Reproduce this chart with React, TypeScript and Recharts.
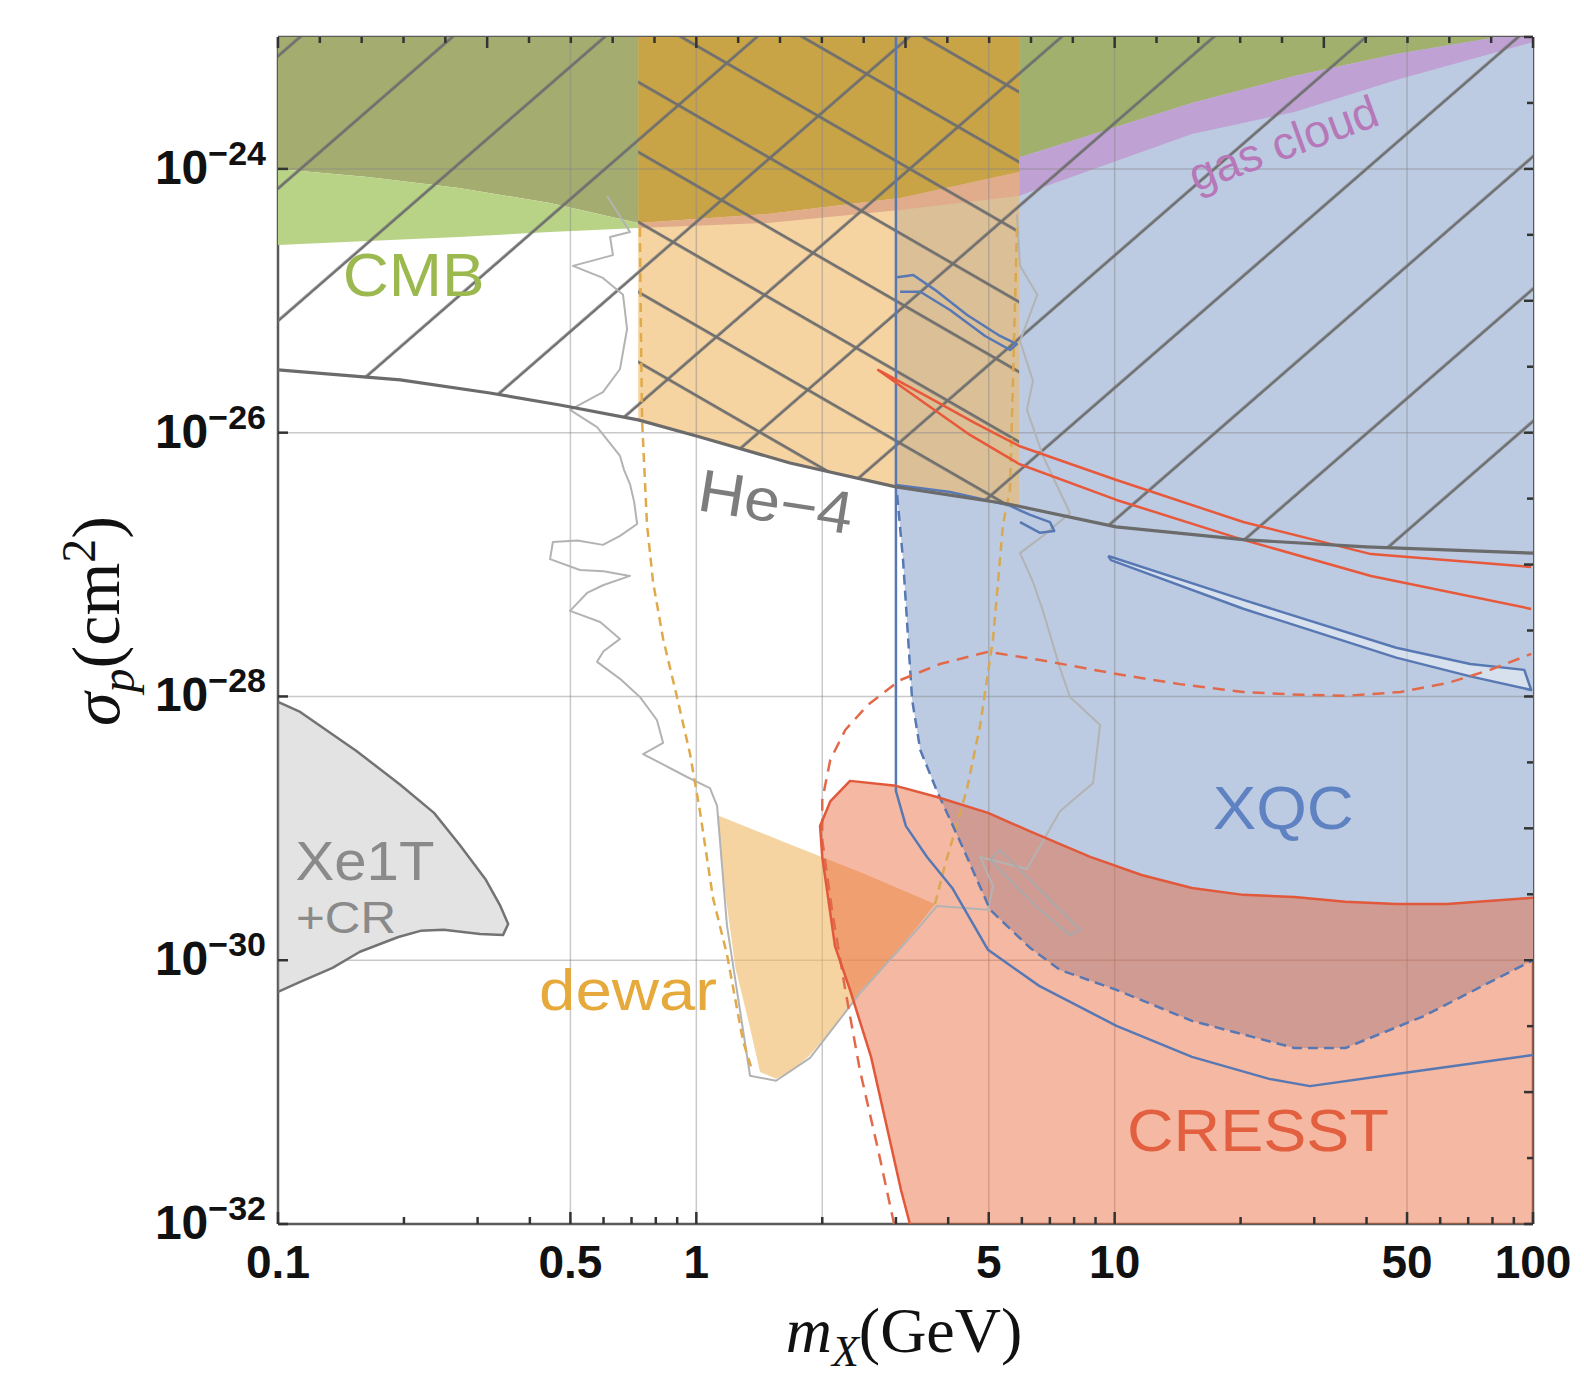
import { ComposedChart, Scatter, XAxis, YAxis } from "recharts";

// every point is [dark matter mass m_X in GeV, cross-section sigma_p in cm^2]
type Pt = [number, number];

const W = 1568;
const H = 1360;

const X_TICKS = [0.1, 0.2, 0.3, 0.4, 0.5, 0.6, 0.7, 0.8, 0.9, 1, 2, 3, 4, 5, 6, 7, 8, 9, 10, 20, 30, 40, 50, 60, 70, 80, 90, 100];
const X_LABELS = [0.1, 0.5, 1, 5, 10, 50, 100];
const Y_LABELS = [1e-32, 1e-30, 1e-28, 1e-26, 1e-24];
const TOP_TICKS = Array.from({ length: 31 }, (_, i) => 0.1 * Math.pow(10, i / 10));
const RIGHT_TICKS = Array.from({ length: 19 }, (_, i) => Math.pow(10, -32 + i / 2));
const GRID_X = [0.5, 1, 2, 5, 10, 50];
const GRID_Y = [1e-24, 1e-26, 1e-28, 1e-30];

const HE4_LINE: Pt[] = [
  [0.1, 2.99e-26], [0.196, 2.51e-26], [0.321, 2.0e-26], [0.472, 1.62e-26], [0.726, 1.25e-26],
  [1.02, 9.27e-27], [1.675, 5.89e-27], [3.0, 3.88e-27], [5.56, 2.88e-27], [10.08, 1.93e-27],
  [20.6, 1.54e-27], [39.9, 1.36e-27], [100, 1.22e-27],
];

const CMB_DARK: Pt[] = [
  [0.1, 1e-23], [0.726, 1e-23], [0.726, 3.89e-25], [0.447, 5.51e-25], [0.271, 7.17e-25], [0.164, 8.68e-25], [0.1, 1.0e-24],
];
const CMB_LIGHT: Pt[] = [
  [0.1, 1e-24], [0.164, 8.68e-25], [0.271, 7.17e-25], [0.447, 5.51e-25], [0.726, 3.89e-25],
  [0.726, 3.56e-25], [0.447, 3.32e-25], [0.271, 3.05e-25], [0.164, 2.84e-25], [0.1, 2.65e-25],
];
const CMB_RIGHT: Pt[] = [
  [5.91, 1e-23], [82.5, 1e-23], [47.1, 7.43e-24], [26.9, 5.06e-24], [15.3, 3.16e-24], [6.07, 1.25e-24], [5.91, 1.23e-24],
];
const GAS_CLOUD: Pt[] = [
  [5.91, 1.23e-24], [6.07, 1.25e-24], [15.3, 3.16e-24], [26.9, 5.06e-24], [47.1, 7.43e-24], [82.5, 1e-23],
  [100, 1e-23], [100, 9.17e-24], [47.1, 4.72e-24], [26.9, 2.7e-24], [15.3, 1.84e-24], [6.07, 6.45e-25], [5.91, 6.23e-25],
];

const DEWAR_BAND: Pt[] = [
  [0.726, 1e-23], [5.91, 1e-23], [5.91, 2.78e-27], [5.56, 2.88e-27], [3.0, 3.88e-27],
  [1.675, 5.89e-27], [1.02, 9.27e-27], [0.726, 1.25e-26],
];
const DEWAR_TOP: Pt[] = [
  [0.726, 1e-23], [5.91, 1e-23], [5.91, 9.47e-25], [3.07, 6.02e-25], [1.48, 4.55e-25], [0.726, 3.89e-25],
];
const DEWAR_GAS: Pt[] = [
  [0.726, 3.89e-25], [1.48, 4.55e-25], [3.07, 6.02e-25], [5.91, 9.47e-25],
  [5.91, 6.23e-25], [3.07, 4.88e-25], [1.48, 3.89e-25], [0.726, 3.56e-25],
];
const DEWAR_BLOB: Pt[] = [
  [1.12, 1.26e-29], [1.62, 7.89e-30], [2.46, 4.67e-30], [3.72, 2.67e-30], [3.33, 1.7e-30], [2.9, 1.01e-30],
  [2.48, 5.96e-31], [2.15, 3.23e-31], [1.87, 1.91e-31], [1.68, 1.42e-31], [1.55, 1.26e-31], [1.42, 1.42e-31],
  [1.33, 3.53e-31], [1.24, 8.74e-31], [1.17, 3.41e-30], [1.12, 1.26e-29],
];
const DEWAR_LEFT: Pt[] = [
  [0.733, 3.56e-25], [0.737, 6.01e-26], [0.742, 1.23e-26], [0.762, 2.03e-27], [0.788, 7.38e-28], [0.833, 2.73e-28],
  [0.899, 9.91e-29], [0.966, 3.66e-29], [1.02, 1.35e-29], [1.096, 2.97e-30], [1.184, 1.1e-30], [1.293, 2.44e-31], [1.359, 1.47e-31],
];
const DEWAR_RIGHT: Pt[] = [
  [5.84, 3.56e-25], [5.78, 1.01e-25], [5.68, 1.25e-26], [5.62, 3.68e-27], [5.41, 2.03e-27], [5.12, 2.73e-28],
  [4.77, 6.08e-29], [4.44, 2.02e-29], [4.16, 9.72e-30], [3.93, 5.28e-30], [3.72, 2.67e-30],
];

const XQC_DASHED: Pt[] = [
  [3.02, 3.37e-27], [3.12, 1.08e-27], [3.21, 2.68e-28], [3.28, 9.41e-29], [3.43, 3.93e-29], [3.76, 1.92e-29],
  [4.34, 7.1e-30], [5.04, 2.41e-30], [6.28, 1.24e-30], [7.4, 8.44e-31], [10.1, 5.96e-31], [15.3, 3.47e-31],
  [26.9, 2.16e-31], [35.6, 2.16e-31], [54.3, 3.72e-31], [100, 1.0e-30],
];
const XQC_SOLID: Pt[] = [
  [3.0, 1e-23], [3.0, 1.92e-29], [3.17, 1.04e-29], [3.56, 6.07e-30], [4.09, 3.53e-30], [4.98, 1.2e-30],
  [6.6, 6.39e-31], [10.1, 3.18e-31], [15.3, 1.85e-31], [23.4, 1.26e-31], [29.3, 1.11e-31], [47.1, 1.37e-31], [100, 1.91e-31],
];
const XQC_ISLAND: Pt[] = [
  [9.65, 1.16e-27], [20.3, 5.4e-28], [47.1, 2.34e-28], [70.8, 1.76e-28], [95.3, 1.59e-28], [99, 1.12e-28],
  [70.8, 1.42e-28], [47.1, 1.97e-28], [20.3, 4.62e-28], [9.8, 1.08e-27], [9.65, 1.16e-27],
];
const XQC_SLIVER: Pt[] = [
  [3.02, 1.51e-25], [3.3, 1.57e-25], [3.72, 1.21e-25], [4.44, 7.8e-26], [5.32, 5.41e-26], [5.84, 4.7e-26],
  [5.62, 4.24e-26], [4.9, 5.41e-26], [4.04, 8.51e-26], [3.43, 1.17e-25], [3.07, 1.17e-25],
];
const XQC_EDGE: Pt[] = [
  [3.0, 4.01e-27], [4.04, 3.55e-27], [5.56, 2.83e-27], [6.28, 2.38e-27], [7.0, 2.1e-27], [7.17, 1.8e-27], [6.63, 1.74e-27], [5.94, 2.1e-27],
];

const CRESST_EDGE: Pt[] = [
  [3.24, 1e-32], [3.085, 1.81e-32], [2.84, 5.84e-32], [2.616, 1.85e-31], [2.33, 5.96e-31], [2.145, 1.28e-30],
  [2.0, 6.07e-30], [1.976, 1.04e-29], [2.09, 1.6e-29], [2.33, 2.29e-29], [3.0, 2.1e-29], [3.76, 1.73e-29],
  [4.98, 1.31e-29], [6.24, 9.56e-30], [8.74, 6.07e-30], [11.6, 4.43e-30], [15.3, 3.53e-30], [20.3, 3.13e-30],
  [26.9, 3.02e-30], [35.6, 2.77e-30], [47.1, 2.67e-30], [62.3, 2.67e-30], [100, 2.97e-30],
];
const CRESST_DASHED: Pt[] = [
  [2.97, 1e-32], [2.72, 3.64e-32], [2.46, 1.47e-31], [2.27, 5.96e-31], [2.11, 2.41e-30], [2.0, 8.17e-30],
  [2.0, 1.64e-29], [2.09, 3.3e-29], [2.27, 5.57e-29], [2.57, 8.62e-29], [3.07, 1.33e-28], [3.82, 1.76e-28],
  [4.98, 2.18e-28], [6.63, 1.89e-28], [10.1, 1.48e-28], [14.3, 1.24e-28], [20.3, 1.08e-28], [27.8, 1.03e-28],
  [35.6, 1.01e-28], [48.2, 1.08e-28], [62.3, 1.26e-28], [79.0, 1.59e-28], [99, 2.1e-28],
];
const CRESST_LENS: Pt[] = [
  [99, 4.61e-28], [41.0, 8.2e-28], [20.3, 1.54e-27], [10.1, 3.09e-27], [5.91, 5.79e-27], [4.51, 9.61e-27],
  [3.43, 1.77e-26], [2.72, 2.99e-26], [3.62, 1.83e-26], [4.64, 1.18e-26], [5.91, 7.93e-27], [10.1, 4.38e-27],
  [20.3, 2.1e-27], [41.0, 1.2e-27], [99, 9.59e-28],
];

const XE1T_CR: Pt[] = [
  [0.1, 9.08e-29], [0.113, 7.63e-29], [0.154, 3.86e-29], [0.196, 2.14e-29], [0.236, 1.31e-29], [0.272, 7.48e-30],
  [0.313, 4.13e-30], [0.339, 2.63e-30], [0.355, 1.88e-30], [0.345, 1.55e-30], [0.304, 1.58e-30], [0.249, 1.7e-30],
  [0.219, 1.67e-30], [0.194, 1.5e-30], [0.157, 1.16e-30], [0.135, 8.74e-31], [0.113, 6.85e-31], [0.1, 5.75e-31],
];

const GRAY_CONTOUR: Pt[] = [
  [0.612, 6.23e-25], [0.694, 3.32e-25], [0.622, 3.05e-25], [0.632, 2.22e-25], [0.507, 1.84e-25], [0.598, 1.49e-25],
  [0.668, 1.11e-25], [0.683, 6.11e-26], [0.657, 3.04e-26], [0.598, 2.03e-26], [0.499, 1.49e-26], [0.579, 1.1e-26],
  [0.62, 8.4e-27], [0.657, 6.66e-27], [0.672, 5.2e-27], [0.694, 4.08e-27], [0.71, 3.0e-27], [0.722, 2.03e-27],
  [0.657, 1.65e-27], [0.598, 1.41e-27], [0.52, 1.52e-27], [0.454, 1.48e-27], [0.447, 1.1e-27], [0.527, 9.1e-28],
  [0.6, 8.9e-28], [0.694, 8.2e-28], [0.6, 7.0e-28], [0.548, 6.09e-28], [0.499, 4.45e-28], [0.589, 3.67e-28],
  [0.657, 2.73e-28], [0.6, 2.2e-28], [0.579, 1.83e-28], [0.657, 1.36e-28], [0.733, 9.91e-29], [0.805, 6.63e-29],
  [0.833, 4.44e-29], [0.746, 3.66e-29], [0.819, 3.13e-29], [0.95, 2.45e-29], [1.078, 2.02e-29], [1.121, 1.48e-29],
  [1.184, 1.82e-30], [1.344, 1.33e-31], [1.551, 1.22e-31], [1.87, 1.82e-31], [2.476, 5.75e-31], [3.333, 1.64e-30],
  [3.762, 2.58e-30], [4.98, 2.41e-30], [5.12, 3.66e-30], [4.77, 6.07e-30], [6.17, 4.92e-30], [7.4, 1.35e-29],
  [8.88, 2.21e-29], [9.23, 6.08e-29], [7.82, 9.91e-29], [7.4, 1.64e-28], [6.74, 4.45e-28], [6.38, 7.38e-28],
  [5.94, 1.22e-27], [6.74, 1.65e-27], [7.82, 2.46e-27], [6.74, 6.66e-27], [6.17, 1.49e-26], [6.38, 2.47e-26],
  [5.94, 4.96e-26], [6.53, 1.11e-25], [5.94, 1.84e-25], [5.84, 4.55e-25],
];
const GRAY_LOOP: Pt[] = [
  [5.04, 5.76e-30], [5.62, 4.06e-30], [6.63, 2.41e-30], [7.82, 1.55e-30], [8.27, 1.7e-30],
  [7.0, 2.86e-30], [5.94, 4.84e-30], [5.32, 6.86e-30], [5.04, 5.76e-30],
];

const LABELS = [
  { text: "CMB", m: 0.211, s: 1.57e-25 },
  { text: "He\u22124", m: 1.55, s: 2.98e-27 },
  { text: "gas cloud", m: 25.3, s: 1.57e-24 },
  { text: "XQC", m: 25.3, s: 1.43e-29 },
  { text: "Xe1T", m: 0.1614, s: 5.68e-30 },
  { text: "+CR", m: 0.1454, s: 2.1e-30 },
  { text: "dewar", m: 0.687, s: 5.96e-31 },
  { text: "CRESST", m: 22.0, s: 5.08e-32 },
];

const LABEL_STYLE: Record<string, { color: string; size: number; width: number; angle: number }> = {
  CMB: { color: "#9cb94f", size: 62, width: 142, angle: 0 },
  "He\u22124": { color: "#7d7d7d", size: 60, width: 156, angle: 9 },
  "gas cloud": { color: "#b678b8", size: 46, width: 198, angle: -20 },
  XQC: { color: "#5f82c2", size: 62, width: 141, angle: 0 },
  Xe1T: { color: "#8a8a8a", size: 56, width: 139, angle: 0 },
  "+CR": { color: "#8a8a8a", size: 44, width: 100, angle: 0 },
  dewar: { color: "#e5a93c", size: 58, width: 178, angle: 0 },
  CRESST: { color: "#e2603f", size: 60, width: 262, angle: 0 },
};

const SANS = '"Liberation Sans", Arial, Helvetica, sans-serif';
const SERIF = '"Liberation Serif", "Times New Roman", serif';
const TICK_COLOR = "#333";
const FRAME = { stroke: "#5a5a5a", strokeWidth: 2.5 };

const HATCH_HE4: Pt[] = [[0.1, 1e-23], [100, 1e-23], ...[...HE4_LINE].reverse()];
const XQC_FILL: Pt[] = [[3.0, 1e-23], [100, 1e-23], ...[...XQC_DASHED].reverse(), [3.0, 4.01e-27]];
const CRESST_FILL: Pt[] = [...CRESST_EDGE, [100, 1e-32]];

const noDot = () => <g />;

function curve(id: string, pts: Pt[], style: Record<string, unknown>) {
  return (
    <Scatter
      key={id}
      name={id}
      data={pts.map(([x, y]) => ({ x, y }))}
      xAxisId="b"
      yAxisId="l"
      line={{ fill: "none", stroke: "none", strokeLinejoin: "round", ...style }}
      lineType="joint"
      shape={noDot}
      legendType="none"
      isAnimationActive={false}
    />
  );
}

function label(i: number) {
  const l = LABELS[i];
  const st = LABEL_STYLE[l.text];
  return (
    <Scatter
      key={`label-${i}`}
      data={[{ x: l.m, y: l.s }]}
      xAxisId="b"
      yAxisId="l"
      legendType="none"
      isAnimationActive={false}
      shape={(p: any) => (
        <text
          x={p.cx}
          y={p.cy}
          textAnchor="middle"
          dominantBaseline="central"
          fontFamily={SANS}
          fontSize={st.size}
          fill={st.color}
          textLength={st.width}
          lengthAdjust="spacingAndGlyphs"
          transform={st.angle ? `rotate(${st.angle} ${p.cx} ${p.cy})` : undefined}
        >
          {l.text}
        </text>
      )}
    />
  );
}

function BottomTick(props: any) {
  const { x, y, payload } = props;
  const v = payload.value as number;
  const major = X_LABELS.includes(v);
  return (
    <g>
      <line x1={x} x2={x} y1={y} y2={y - (major ? 12 : 7)} stroke={TICK_COLOR} strokeWidth={2.5} />
      {major && (
        <text x={x} y={y + 54} textAnchor="middle" fontFamily={SANS} fontWeight={700} fontSize={46} fill="#111">
          {String(v)}
        </text>
      )}
    </g>
  );
}

function TopTick(props: any) {
  const { x, y, index } = props;
  return <line x1={x} x2={x} y1={y} y2={y + (index % 5 === 0 ? 11 : 6)} stroke={TICK_COLOR} strokeWidth={2.5} />;
}

function LeftTick(props: any) {
  const { x, y, payload } = props;
  const e = Math.round(Math.log10(payload.value));
  return (
    <g>
      <line x1={x} x2={x + 10} y1={y} y2={y} stroke={TICK_COLOR} strokeWidth={2.5} />
      <text x={x - 12} y={y + 15} textAnchor="end" fontFamily={SANS} fontWeight={700} fontSize={48} fill="#111">
        10
        <tspan dy={-19} fontSize={34}>{`\u2212${-e}`}</tspan>
      </text>
    </g>
  );
}

function RightTick(props: any) {
  const { x, y, index } = props;
  return <line x1={x} x2={x - (index % 2 === 0 ? 9 : 6)} y1={y} y2={y} stroke={TICK_COLOR} strokeWidth={2.5} />;
}

export default function App() {
  return (
    <div style={{ position: "relative", width: W, height: H, background: "#fff" }}>
      <ComposedChart width={W} height={H} margin={{ top: 0, right: 0, bottom: 0, left: 0 }}>
        <defs>
          <pattern id="hatch-he4" patternUnits="userSpaceOnUse" width={40} height={99.9} patternTransform="rotate(-41)">
            <rect x={0} y={12.3} width={40} height={2.8} fill="#6f6f6f" />
          </pattern>
          <pattern id="hatch-dewar" patternUnits="userSpaceOnUse" width={40} height={60.6} patternTransform="rotate(30)">
            <rect x={0} y={50.6} width={40} height={2.8} fill="#6f6f6f" />
          </pattern>
        </defs>
        <XAxis
          xAxisId="b"
          dataKey="x"
          type="number"
          scale="log"
          domain={[0.1, 100]}
          allowDataOverflow
          ticks={X_TICKS}
          interval={0}
          tick={BottomTick}
          tickLine={false}
          tickSize={0}
          tickMargin={0}
          axisLine={FRAME}
          height={144}
        />
        <XAxis
          xAxisId="t"
          orientation="top"
          dataKey="x"
          type="number"
          scale="log"
          domain={[0.1, 100]}
          allowDataOverflow
          ticks={TOP_TICKS}
          interval={0}
          tick={TopTick}
          tickLine={false}
          tickSize={0}
          tickMargin={0}
          axisLine={FRAME}
          height={29}
        />
        <YAxis
          yAxisId="l"
          dataKey="y"
          type="number"
          scale="log"
          domain={[1e-32, 1e-23]}
          allowDataOverflow
          ticks={Y_LABELS}
          interval={0}
          tick={LeftTick}
          tickLine={false}
          tickSize={0}
          tickMargin={0}
          axisLine={FRAME}
          width={270}
        />
        <YAxis
          yAxisId="r"
          orientation="right"
          dataKey="y"
          type="number"
          scale="log"
          domain={[1e-32, 1e-23]}
          allowDataOverflow
          ticks={RIGHT_TICKS}
          interval={0}
          tick={RightTick}
          tickLine={false}
          tickSize={0}
          tickMargin={0}
          axisLine={FRAME}
          width={43}
        />

        {curve("xqc-fill", XQC_FILL, { fill: "#bccbe2" })}
        {curve("cmb-right", CMB_RIGHT, { fill: "#a2b06d" })}
        {curve("gas-cloud", GAS_CLOUD, { fill: "#c0a1d4" })}
        {curve("dewar-band", DEWAR_BAND, { fill: "#f0b764", fillOpacity: 0.6 })}
        {curve("dewar-top", DEWAR_TOP, { fill: "#c9a446" })}
        {curve("dewar-gas", DEWAR_GAS, { fill: "#e0ac8b" })}
        {curve("cmb-dark", CMB_DARK, { fill: "#a4ad6f" })}
        {curve("cmb-light", CMB_LIGHT, { fill: "#b9d386" })}

        {GRID_X.map((v) =>
          curve(`grid-x-${v}`, [[v, 1e-32], [v, 1e-23]], { stroke: "#888", strokeOpacity: 0.45, strokeWidth: 1.5 })
        )}
        {GRID_Y.map((v) =>
          curve(`grid-y-${v}`, [[0.1, v], [100, v]], { stroke: "#888", strokeOpacity: 0.45, strokeWidth: 1.5 })
        )}

        {curve("xe1t", [...XE1T_CR, XE1T_CR[0]], { fill: "#e3e3e3", stroke: "#737373", strokeWidth: 2.5 })}
        {curve("dewar-blob", DEWAR_BLOB, { fill: "#f0b764", fillOpacity: 0.6 })}
        {curve("cresst-fill", CRESST_FILL, { fill: "#e96233", fillOpacity: 0.45 })}

        {curve("hatch-he4", HATCH_HE4, { fill: "url(#hatch-he4)" })}
        {curve("hatch-dewar", DEWAR_BAND, { fill: "url(#hatch-dewar)" })}

        {curve("gray-contour", GRAY_CONTOUR, { stroke: "#b3b3b3", strokeWidth: 2 })}
        {curve("gray-loop", GRAY_LOOP, { stroke: "#a9a9a9", strokeWidth: 2 })}

        {curve("dewar-left", DEWAR_LEFT, { stroke: "#e0aa4a", strokeWidth: 2.5, strokeDasharray: "9 6" })}
        {curve("dewar-right", DEWAR_RIGHT, { stroke: "#d9a850", strokeWidth: 2.5, strokeDasharray: "9 6" })}

        {curve("xqc-dashed", XQC_DASHED, { stroke: "#5878b4", strokeWidth: 2.5, strokeDasharray: "10 6" })}
        {curve("xqc-solid", XQC_SOLID, { stroke: "#5878b4", strokeWidth: 2.5 })}
        {curve("xqc-sliver", XQC_SLIVER, { stroke: "#5878b4", strokeWidth: 2.5 })}
        {curve("xqc-edge", XQC_EDGE, { stroke: "#5878b4", strokeWidth: 2.5 })}
        {curve("xqc-island", XQC_ISLAND, { fill: "#ffffff", fillOpacity: 0.4, stroke: "#5878b4", strokeWidth: 2.5 })}

        {curve("cresst-dashed", CRESST_DASHED, { stroke: "#e26a4b", strokeWidth: 2.5, strokeDasharray: "12 8" })}
        {curve("cresst-edge", CRESST_EDGE, { stroke: "#e2583a", strokeWidth: 2.5 })}
        {curve("cresst-lens", CRESST_LENS, { stroke: "#e8583a", strokeWidth: 2.5 })}

        {curve("he4-line", HE4_LINE, { stroke: "#6b6b6b", strokeWidth: 3.2 })}

        {LABELS.map((_, i) => label(i))}
      </ComposedChart>

      <div
        style={{
          position: "absolute",
          left: 88,
          top: 613,
          transform: "translate(-50%, -50%) rotate(-90deg)",
          fontFamily: SERIF,
          fontSize: 68,
          lineHeight: 1,
          whiteSpace: "nowrap",
          color: "#111",
        }}
      >
        <i>σ</i>
        <sub style={{ fontSize: 48, lineHeight: 0 }}>
          <i>p</i>
        </sub>
        (cm<sup style={{ fontSize: 48, lineHeight: 0 }}>2</sup>)
      </div>
      <div
        style={{
          position: "absolute",
          left: 896,
          top: 1323,
          transform: "translate(-50%, -50%)",
          fontFamily: SERIF,
          fontSize: 64,
          lineHeight: 1,
          whiteSpace: "nowrap",
          color: "#111",
        }}
      >
        <i>m</i>
        <sub style={{ fontSize: 44, lineHeight: 0 }}>
          <i>X</i>
        </sub>
        (GeV)
      </div>
    </div>
  );
}
